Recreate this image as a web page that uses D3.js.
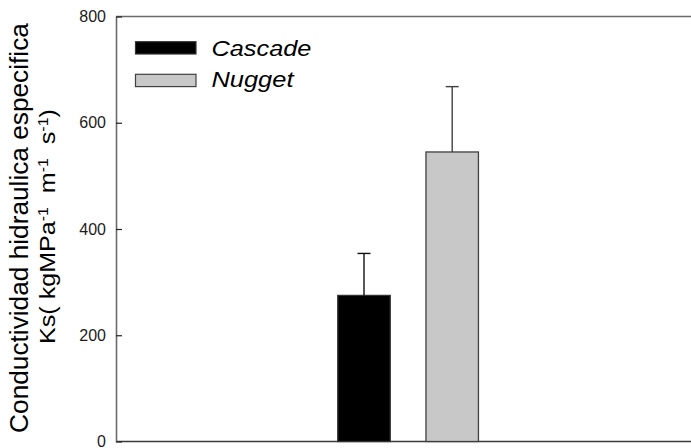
<!DOCTYPE html>
<html>
<head>
<meta charset="utf-8">
<script src="https://cdn.jsdelivr.net/npm/d3@7"></script>
<style>
  html, body { margin: 0; padding: 0; background: #fff; }
  svg { display: block; }
  text { font-family: "Liberation Sans", Arial, sans-serif; }
</style>
</head>
<body>
<svg id="chart" width="691" height="448"></svg>
<script>
// Specific hydraulic conductivity by cultivar (mean and error)
const cultivars = ["Cascade", "Nugget"];
const meanKs = [275, 545];
const errKs = [79, 123];
const barFills = ["#000000", "#c8c8c8"];
const barStrokes = ["#333333", "#404040"];
const yTicks = [0, 200, 400, 600, 800];

const svg = d3.select("#chart");

const plot = { left: 116, right: 720, top: 16.5, bottom: 441.5 };

const y = d3.scaleLinear().domain([0, 800]).range([plot.bottom, plot.top]);

const x = d3.scaleBand()
  .domain(cultivars)
  .range([319.9, 496.3])
  .paddingInner(0.405)
  .paddingOuter(0.2025);

// frame: top and bottom lines run off the right edge
svg.append("line")
  .attr("x1", plot.left).attr("x2", plot.right)
  .attr("y1", plot.top).attr("y2", plot.top)
  .attr("stroke", "#6a6a6a").attr("stroke-width", 1.6);
svg.append("line")
  .attr("x1", plot.left).attr("x2", plot.right)
  .attr("y1", plot.bottom).attr("y2", plot.bottom)
  .attr("stroke", "#3a3a3a").attr("stroke-width", 1.6);

// y axis with inward ticks
const yAxis = d3.axisLeft(y)
  .tickValues(yTicks)
  .tickFormat(d3.format("d"))
  .tickSizeInner(-6)
  .tickSizeOuter(0)
  .tickPadding(10);

const gy = svg.append("g")
  .attr("transform", `translate(${plot.left},0)`)
  .call(yAxis);
gy.select(".domain").attr("stroke", "#6a6a6a").attr("stroke-width", 1.6);
gy.selectAll(".tick line").attr("stroke", "#222").attr("stroke-width", 1.2);
gy.selectAll(".tick text")
  .attr("fill", "#1c1c1c")
  .style("font-size", "16px")
  .style("font-family", "'Liberation Sans', Arial, sans-serif");

// bars
const bars = cultivars.map((c, i) => ({ c, m: meanKs[i], e: errKs[i], i }));

svg.append("g").selectAll("rect")
  .data(bars)
  .join("rect")
  .attr("x", d => x(d.c))
  .attr("y", d => y(d.m))
  .attr("width", x.bandwidth())
  .attr("height", d => y(0) - y(d.m))
  .attr("fill", d => barFills[d.i])
  .attr("stroke", d => barStrokes[d.i])
  .attr("stroke-width", 1.3);

// upper error bars
const capHalf = 6.5;
const eg = svg.append("g").selectAll("g")
  .data(bars)
  .join("g")
  .attr("stroke", d => d.i === 0 ? "#111" : "#404040")
  .attr("stroke-width", 1.4);
eg.append("line")
  .attr("x1", d => x(d.c) + x.bandwidth() / 2)
  .attr("x2", d => x(d.c) + x.bandwidth() / 2)
  .attr("y1", d => y(d.m))
  .attr("y2", d => y(d.m + d.e));
eg.append("line")
  .attr("x1", d => x(d.c) + x.bandwidth() / 2 - capHalf)
  .attr("x2", d => x(d.c) + x.bandwidth() / 2 + capHalf)
  .attr("y1", d => y(d.m + d.e))
  .attr("y2", d => y(d.m + d.e));

// legend
const legend = svg.append("g");
const legendRows = [
  { top: 41.7, base: 56.3 },
  { top: 74.3, base: 86.8 }
];
const legendWidths = [100, 82];
cultivars.forEach((c, i) => {
  legend.append("rect")
    .attr("x", 135.5).attr("y", legendRows[i].top)
    .attr("width", 60.5).attr("height", 12.3)
    .attr("fill", barFills[i])
    .attr("stroke", barStrokes[i])
    .attr("stroke-width", 1.2);
  const t = legend.append("text")
    .attr("font-style", "italic")
    .attr("font-size", 22)
    .attr("fill", "#000")
    .text(c);
  const natural = t.node().getComputedTextLength();
  t.attr("transform", `translate(211.5,${legendRows[i].base}) scale(${legendWidths[i] / natural},1)`);
});

// y axis title, two rotated lines
function rotatedLine(xBase, yCenter, length, size, build) {
  const t = svg.append("text")
    .attr("font-size", size)
    .attr("fill", "#000")
    .attr("text-anchor", "middle");
  build(t);
  const natural = t.node().getComputedTextLength();
  t.attr("transform", `translate(${xBase},${yCenter}) rotate(-90) scale(${length / natural},1)`);
  return t;
}

rotatedLine(28, 228, 410, 26, t => t.text("Conductividad hidraulica especifica"));

rotatedLine(55, 226.5, 235, 22, t => {
  const parts = [
    ["Ks( kgMPa", false], ["-1", true], ["  m", false], ["-1", true], ["  s", false], ["-1", true], [")", false]
  ];
  t.attr("xml:space", "preserve");
  parts.forEach(([s, sup]) => {
    const sp = t.append("tspan").text(s);
    if (sup) sp.attr("font-size", 14).attr("baseline-shift", "super");
  });
});
</script>
</body>
</html>
